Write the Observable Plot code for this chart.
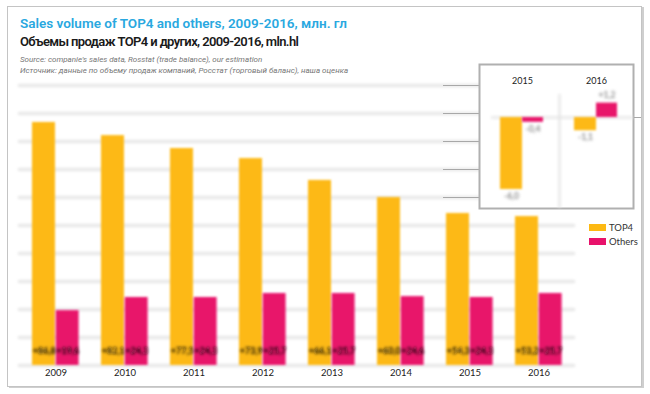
<!DOCTYPE html>
<html>
<head>
<meta charset="utf-8">
<script src="https://cdn.jsdelivr.net/npm/d3@7"></script>
<script src="https://cdn.jsdelivr.net/npm/@observablehq/plot@0.6"></script>
<style>
  html, body { margin: 0; padding: 0; background: #fff; }
  #wrap { position: relative; width: 650px; height: 394px; overflow: hidden; background: #fff; }
  #frame { position: absolute; left: 7px; top: 6px; width: 633px; height: 379px; border: 1px solid #c4c4c4; box-shadow: 2px 1px 0 #cfcfcf; }
  .t1 { position: absolute; left: 20px; top: 15px; font: 600 13.5px Roboto, sans-serif; line-height: 16px; color: #29a8e0; white-space: nowrap; }
  .t2 { position: absolute; left: 20px; top: 34px; font: 600 13px Roboto, sans-serif; letter-spacing: -0.62px; line-height: 16px; color: #1a1a1a; white-space: nowrap; }
  .src { position: absolute; left: 20px; font: italic 8px Roboto, sans-serif; line-height: 11px; color: #777; white-space: nowrap; }
  #main { position: absolute; left: 0; top: 78px; }
  #inset { position: absolute; left: 440px; top: 60px; }
  #legend { position: absolute; left: 589px; top: 221px; font: 9.5px Lato, sans-serif; color: #333; }
  .li { display: flex; align-items: center; height: 13.5px; }
  .sw { width: 17px; height: 7px; margin-right: 3px; }
</style>
</head>
<body>
<div id="wrap">
  <div id="frame"></div>
  <div class="t1">Sales volume of TOP4 and others, 2009-2016, млн. гл</div>
  <div class="t2">Объемы продаж TOP4 и других, 2009-2016, mln.hl</div>
  <div class="src" style="top:54px">Source: companie's sales data, Rosstat (trade balance), our estimation</div>
  <div class="src" style="top:65px">Источник: данные по объему продаж компаний, Росстат (торговый баланс), наша оценка</div>
  <div id="main"></div>
  <div id="inset"></div>
  <div id="legend"></div>
</div>
<script>
// ---- data (mln hl) ----
const years = ["2009", "2010", "2011", "2012", "2013", "2014", "2015", "2016"];
const top4 = [86.8, 82.1, 77.5, 73.9, 66.1, 60.0, 54.3, 53.2];
const others = [19.6, 24.3, 24.3, 25.7, 25.7, 24.6, 24.3, 25.7];
const gridTicks = [0, 10, 20, 30, 40, 50, 60, 70, 80, 90, 100];
const leaderTicks = [60, 70, 80, 90, 100];

// inset: change vs previous year
const insetYears = ["2015", "2016"];
const insetTop4 = [-6.0, -1.1];
const insetOthers = [-0.4, 1.2];

const seriesNames = ["TOP4", "Others"];
const colors = ["#FDB913", "#E8126B"];

const fmt = v => (v > 0 ? "+" : "") + v.toFixed(1).replace(".", ",");

const mainT = years.map((y, i) => ({year: y, value: top4[i]}));
const mainO = years.map((y, i) => ({year: y, value: others[i]}));

const main = Plot.plot({
  width: 650,
  height: 316,
  marginTop: 7,
  marginBottom: 29,
  marginLeft: 18,
  marginRight: 75,
  style: {background: "transparent", fontFamily: "Lato, sans-serif", fontSize: "9.5px", color: "#222"},
  x: {domain: years, padding: 0, label: null, tickSize: 0, tickPadding: 4},
  y: {domain: [0, 100], axis: null},
  marks: [
    Plot.ruleY(gridTicks, {stroke: "#e0e0e0", strokeWidth: 2.5, ariaDescription: "soft-grid"}),
    Plot.barY(mainT, {x: "year", y: "value", fill: colors[0], insetLeft: 11, insetRight: 35, ariaDescription: "soft-bars"}),
    Plot.barY(mainO, {x: "year", y: "value", fill: colors[1], insetLeft: 34.6, insetRight: 11.4, ariaDescription: "soft-bars"}),
    Plot.text(mainT, {x: "year", y: 0, text: d => fmt(d.value), dx: -11.7, dy: -14, fill: "#111", fontSize: 9, fontWeight: "bold", ariaDescription: "soft-vals"}),
    Plot.text(mainO, {x: "year", y: 0, text: d => fmt(d.value), dx: 11.7, dy: -14, fill: "#111", fontSize: 9, fontWeight: "bold", ariaDescription: "soft-vals"}),
    Plot.ruleY(leaderTicks, {stroke: "#a8a8a8", strokeWidth: 1, insetLeft: 425})
  ]
});
document.getElementById("main").appendChild(main);

const insT = insetYears.map((y, i) => ({year: y, value: insetTop4[i]}));
const insO = insetYears.map((y, i) => ({year: y, value: insetOthers[i]}));

const inset = Plot.plot({
  width: 205,
  height: 150,
  marginTop: 4,
  marginBottom: 2,
  marginLeft: 39,
  marginRight: 12,
  style: {background: "transparent", fontFamily: "Lato, sans-serif", fontSize: "9px", color: "#222"},
  x: {domain: insetYears, range: [45, 193], padding: 0, axis: null},
  y: {domain: [-7, 3], range: [141, 21], axis: null},
  marks: [
    Plot.frame({fill: "white", stroke: "#b0b0b0", strokeWidth: 2}),
    Plot.ruleX(["2015"], {dx: 37, stroke: "#e2e2e2", strokeWidth: 2, insetTop: 30, ariaDescription: "soft-grid"}),
    Plot.ruleY([0], {stroke: "#e2e2e2", strokeWidth: 2, insetLeft: 12, ariaDescription: "soft-grid"}),
    Plot.ruleY([0], {stroke: "#a8a8a8", strokeWidth: 1, insetLeft: 155, insetRight: -8}),
    Plot.barY(insT, {x: "year", y: "value", fill: colors[0], insetLeft: 15, insetRight: 37, ariaDescription: "soft-bars"}),
    Plot.barY(insO, {x: "year", y: "value", fill: colors[1], insetLeft: 37, insetRight: 16, ariaDescription: "soft-bars"}),
    Plot.text(insT, {x: "year", y: "value", text: d => fmt(d.value), dx: -11, dy: 7, fill: "#8f8f8f", fontSize: 8.5, fontWeight: "bold", ariaDescription: "soft-vals"}),
    Plot.text(insO, {filter: d => d.value < 0, x: "year", y: "value", text: d => fmt(d.value), dx: 10.5, dy: 7, fill: "#8f8f8f", fontSize: 8.5, fontWeight: "bold", ariaDescription: "soft-vals"}),
    Plot.text(insO, {filter: d => d.value >= 0, x: "year", y: "value", text: d => fmt(d.value), dx: 10.5, dy: -8, fill: "#8f8f8f", fontSize: 8.5, fontWeight: "bold", ariaDescription: "soft-vals"}),
    Plot.text(insetYears, {x: d => d, frameAnchor: "top", dy: 13, fill: "#222", fontSize: 9})
  ]
});
document.getElementById("inset").appendChild(inset);

// soften marks as in the reference (SVG filters)
function addBlur(svg, prefix) {
  const defs = d3.select(svg).insert("defs", ":first-child");
  const mk = (id, sd) => {
    defs.append("filter").attr("id", prefix + id)
      .attr("filterUnits", "userSpaceOnUse")
      .attr("x", -50).attr("y", -50).attr("width", 900).attr("height", 600)
      .append("feGaussianBlur").attr("stdDeviation", sd);
  };
  mk("g", 1.4); mk("b", 1.2); mk("v", 1.5);
  const pick = (desc) => Array.from(svg.querySelectorAll("g")).filter(g =>
    g.getAttribute("aria-description") === desc);
  pick("soft-grid").forEach(g => g.setAttribute("filter", `url(#${prefix}g)`));
  pick("soft-bars").forEach(g => g.setAttribute("filter", `url(#${prefix}b)`));
  pick("soft-vals").forEach(g => g.setAttribute("filter", `url(#${prefix}v)`));
}
addBlur(main, "m");
addBlur(inset, "i");

// legend
const lg = document.getElementById("legend");
seriesNames.forEach((n, i) => {
  const row = document.createElement("div");
  row.className = "li";
  row.innerHTML = `<span class="sw" style="background:${colors[i]}"></span><span>${n}</span>`;
  lg.appendChild(row);
});
</script>
</body>
</html>
